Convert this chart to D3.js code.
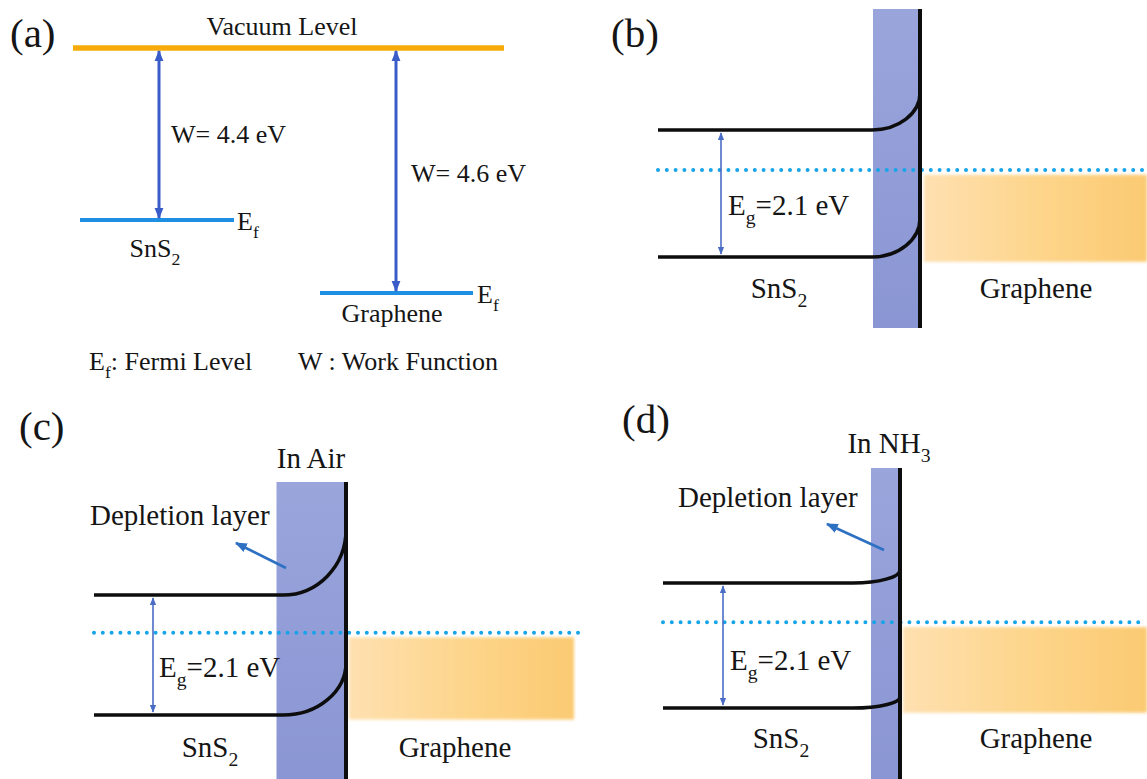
<!DOCTYPE html>
<html><head><meta charset="utf-8">
<script src="https://cdn.jsdelivr.net/npm/d3@7"></script>
</head><body style="margin:0;background:#fff"><svg id="c" width="1147" height="779" style="display:block"></svg>
<script>
// ---------------- DATA ----------------
const panelLabels = ["(a)", "(b)", "(c)", "(d)"];
const materials = ["SnS_2", "Graphene"];
const workFunctions = [4.4, 4.6];          // eV below vacuum level
const bandGap = 2.1;                        // eV (SnS2)
const conditions = ["", "In Air", "In NH_3"];
const cbBending = [0.61, 1.14, 0.22];       // eV, upward bending of conduction band at interface
const vbBending = [0.64, 0.92, 0.19];       // eV, upward bending of valence band at interface
const fermiBelowCB = 0.66;                  // eV
const grapheneBand = [0.74, 2.18];          // eV below SnS2 CB (filled states shown)
const depletionWidth = [1.0, 1.5, 0.6];     // relative depletion layer width
const legendTexts = ["E_f: Fermi Level", "W : Work Function"];

// ---------------- LAYOUT ----------------
const SERIF = "'Liberation Serif', 'Times New Roman', 'DejaVu Serif', serif";
const svg = d3.select("#c");
const defs = svg.append("defs");
const FONT_A = 26, FONT_B = 29, FONT_L = 41;

function marker(id, color, size) {
  defs.append("marker").attr("id", id)
    .attr("viewBox", "0 0 10 10").attr("refX", 9).attr("refY", 5)
    .attr("markerWidth", size).attr("markerHeight", size)
    .attr("markerUnits", "userSpaceOnUse").attr("orient", "auto-start-reverse")
    .append("path").attr("d", "M0,1 L10,5 L0,9 Z").attr("fill", color);
}
marker("arrA", "#3a5cc8", 11);
marker("arrG", "#4a6cc6", 8);
marker("arrD", "#2e70c2", 12);

const og = defs.append("linearGradient").attr("id", "orangeG");
og.append("stop").attr("offset", 0).attr("stop-color", "#fee0b0");
og.append("stop").attr("offset", 0.5).attr("stop-color", "#fdd58c");
og.append("stop").attr("offset", 1).attr("stop-color", "#fbca72");
const bg = defs.append("linearGradient").attr("id", "barG").attr("x1", 0).attr("x2", 0).attr("y1", 0).attr("y2", 1);
bg.append("stop").attr("offset", 0).attr("stop-color", "#9aa5dc");
bg.append("stop").attr("offset", 1).attr("stop-color", "#8a96d3");
defs.append("filter").attr("id", "soft").attr("x", "-5%").attr("y", "-10%").attr("width", "110%").attr("height", "120%")
  .append("feGaussianBlur").attr("stdDeviation", 1.6);

function parts(s) { return s.split(/(_\w)/).filter(d => d.length); }
function rich(g, x, y, str, size, anchor) {
  const t = g.append("text").attr("x", x).attr("y", y)
    .attr("font-family", SERIF).style("font-family", SERIF)
    .attr("font-size", size).attr("fill", "#151515")
    .attr("text-anchor", anchor || "start");
  let shift = 0;
  parts(str).forEach(p => {
    const sub = p[0] === "_";
    const ts = t.append("tspan").text(sub ? p.slice(1) : p);
    const target = sub ? size * 0.3 : 0;
    if (target !== shift) { ts.attr("dy", target - shift); shift = target; }
    if (sub) ts.attr("font-size", size * 0.68);
  });
  return t;
}

// ---------------- PANEL (a) ----------------
const ga = svg.append("g");
const yA = d3.scaleLinear().domain([0, workFunctions[0], workFunctions[1]]).range([48, 220, 293]);
const xVac = d3.scaleLinear().domain([0, 1]).range([73, 504]);
rich(ga, 10, 47, panelLabels[0], FONT_L);
ga.append("line").attr("x1", xVac(0)).attr("x2", xVac(1)).attr("y1", yA(0)).attr("y2", yA(0))
  .attr("stroke", "#f7ab0a").attr("stroke-width", 5.5);
rich(ga, 282, 35, "Vacuum Level", FONT_A, "middle");

const aLayout = [
  { fx: [80, 234], ax: 159, wx: 171, wy: 143, ex: 237, mx: 155, my: 257 },
  { fx: [320, 473], ax: 396, wx: 411, wy: 182, ex: 477, mx: 392, my: 322 }
];
workFunctions.forEach((w, i) => {
  const L = aLayout[i];
  const yF = yA(w);
  ga.append("line").attr("x1", L.fx[0]).attr("x2", L.fx[1]).attr("y1", yF).attr("y2", yF)
    .attr("stroke", "#1e8fe2").attr("stroke-width", 4);
  ga.append("line").attr("x1", L.ax).attr("x2", L.ax).attr("y1", yA(0) + 3).attr("y2", yF - 2)
    .attr("stroke", "#3a5cc8").attr("stroke-width", 3)
    .attr("marker-start", "url(#arrA)").attr("marker-end", "url(#arrA)");
  rich(ga, L.wx, L.wy, `W= ${w} eV`, FONT_A);
  rich(ga, L.ex, yF + 10, "E_f", FONT_A);
  rich(ga, L.mx, L.my, materials[i], FONT_A, "middle");
});
rich(ga, 89, 370, legendTexts[0], FONT_A);
rich(ga, 298, 370, legendTexts[1], FONT_A);

// ---------------- PANELS (b)(c)(d) ----------------
const bandLayout = [
  { label: [611, 47], x0: 658, xi: 920, xr: 1147, ox: [924, 1147], cb: 130, vb: 257, bar: [9, 328], bendW: 48,
    ax: 721, eg: [728, 215], mat: [[779, 298], [1036, 298]], cond: null, dep: null },
  { label: [19, 440], x0: 94, xi: 346, xr: 584, ox: [349, 574], cb: 595, vb: 715, bar: [482, 779], bendW: 63,
    ax: 153, eg: [159, 677], mat: [[210, 757], [455, 757]], cond: [311, 468], dep: { t: [90, 525], a: [[286, 568], [236, 543]] } },
  { label: [622, 433], x0: 663, xi: 900, xr: 1147, ox: [903, 1147], cb: 583, vb: 708, bar: [468, 779], bendW: 47,
    ax: 723, eg: [730, 670], mat: [[781, 748], [1036, 748]], cond: [889, 453], dep: { t: [678, 507], a: [[884, 550], [827, 524]] } }
];
const xWidth = d3.scaleLinear().domain([0, 1]).range([0, 45]);

function bandPath(x0, xi, y, bendW, bendPx) {
  const p = d3.path();
  const xs = xi - bendW, y1 = y - bendPx;
  p.moveTo(x0, y);
  p.lineTo(xs, y);
  p.bezierCurveTo(xs + 0.552 * bendW, y, xi, y1 + 0.552 * bendPx, xi, y1);
  return p.toString();
}

bandLayout.forEach((L, i) => {
  const g = svg.append("g");
  const y = d3.scaleLinear().domain([0, bandGap]).range([L.cb, L.vb]);
  const bw = xWidth(depletionWidth[i]);
  g.append("rect").attr("x", L.ox[0]).attr("width", L.ox[1] - L.ox[0])
    .attr("y", y(grapheneBand[0])).attr("height", y(grapheneBand[1]) - y(grapheneBand[0]))
    .attr("fill", "url(#orangeG)").attr("filter", "url(#soft)");
  g.append("rect").attr("x", L.xi - 2 - bw).attr("width", bw).attr("y", L.bar[0]).attr("height", L.bar[1] - L.bar[0])
    .attr("fill", "url(#barG)");
  g.append("line").attr("x1", L.x0).attr("x2", L.xr).attr("y1", y(fermiBelowCB)).attr("y2", y(fermiBelowCB))
    .attr("stroke", "#17a4e8").attr("stroke-width", 4).attr("stroke-linecap", "round")
    .attr("stroke-dasharray", "0 8.8");
  g.append("path").attr("d", bandPath(L.x0, L.xi, y(0), L.bendW, y(cbBending[i]) - y(0)))
    .attr("fill", "none").attr("stroke", "#0d0d0d").attr("stroke-width", 3.5);
  g.append("path").attr("d", bandPath(L.x0, L.xi, y(bandGap), L.bendW, y(vbBending[i]) - y(0)))
    .attr("fill", "none").attr("stroke", "#0d0d0d").attr("stroke-width", 3.5);
  g.append("line").attr("x1", L.xi).attr("x2", L.xi).attr("y1", L.bar[0]).attr("y2", L.bar[1])
    .attr("stroke", "#0d0d0d").attr("stroke-width", 4);
  g.append("line").attr("x1", L.ax).attr("x2", L.ax).attr("y1", y(0) + 3).attr("y2", y(bandGap) - 3)
    .attr("stroke", "#4a6cc6").attr("stroke-width", 1.6)
    .attr("marker-start", "url(#arrG)").attr("marker-end", "url(#arrG)");
  rich(g, L.eg[0], L.eg[1], `E_g=${bandGap} eV`, FONT_B);
  rich(g, L.mat[0][0], L.mat[0][1], materials[0], FONT_B, "middle");
  rich(g, L.mat[1][0], L.mat[1][1], materials[1], FONT_B, "middle");
  rich(g, L.label[0], L.label[1], panelLabels[i + 1], FONT_L);
  if (L.cond) rich(g, L.cond[0], L.cond[1], conditions[i], FONT_B, "middle");
  if (L.dep) {
    rich(g, L.dep.t[0], L.dep.t[1], "Depletion layer", FONT_B);
    g.append("line").attr("x1", L.dep.a[0][0]).attr("y1", L.dep.a[0][1])
      .attr("x2", L.dep.a[1][0]).attr("y2", L.dep.a[1][1])
      .attr("stroke", "#2e70c2").attr("stroke-width", 2.6).attr("marker-end", "url(#arrD)");
  }
});
</script>
</body></html>
